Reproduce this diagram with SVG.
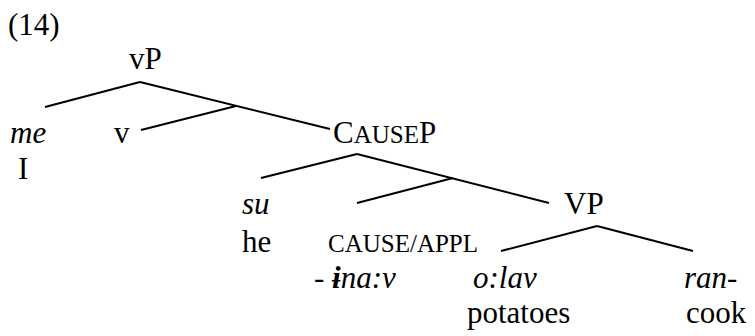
<svg xmlns="http://www.w3.org/2000/svg" width="755" height="336" viewBox="0 0 755 336">
  <style>
    text { font-family: "Liberation Serif", "Times New Roman", serif; font-size: 31px; fill: #000; }
    .it { font-style: italic; }
    .sc { font-size: 25px; }
    .edge { stroke: #000; stroke-width: 2; fill: none; stroke-linecap: butt; }
  </style>
  <rect width="755" height="336" fill="#fff"/>
  <text x="8" y="35">(14)</text>

  <g id="connectors">
    <!-- vP -->
    <line class="edge" x1="140" y1="82" x2="45" y2="107"/>
    <line class="edge" x1="140" y1="82" x2="330" y2="129"/>
    <line class="edge" x1="236" y1="106" x2="141" y2="130"/>
    <!-- CauseP -->
    <line class="edge" x1="357" y1="154" x2="261" y2="178"/>
    <line class="edge" x1="357" y1="154" x2="549" y2="203"/>
    <line class="edge" x1="453" y1="178" x2="357" y2="203"/>
    <!-- VP -->
    <line class="edge" x1="597" y1="226" x2="501" y2="251"/>
    <line class="edge" x1="597" y1="226" x2="693" y2="251"/>
  </g>

  <g id="vP"><text x="129" y="69">vP</text></g>
  <g id="me"><text class="it" x="10" y="143">me</text><text x="18" y="179">I</text></g>
  <g id="v"><text x="114" y="143">v</text></g>
  <g id="CauseP"><text x="333" y="143">C<tspan class="sc">AUSE</tspan>P</text></g>
  <g id="su"><text class="it" x="242" y="214">su</text><text x="242" y="252">he</text></g>
  <g id="cause"><text class="sc" x="328" y="252">CAUSE/APPL</text><text x="314" y="288"><tspan>- </tspan><tspan class="it" font-weight="bold">ɨ</tspan><tspan class="it">na:v</tspan></text></g>
  <g id="VP"><text x="564" y="214">VP</text></g>
  <g id="olav"><text class="it" x="473" y="288">o:lav</text><text x="467" y="323">potatoes</text></g>
  <g id="ran"><text class="it" x="684" y="288">ran-</text><text x="686" y="323">cook</text></g>
</svg>
